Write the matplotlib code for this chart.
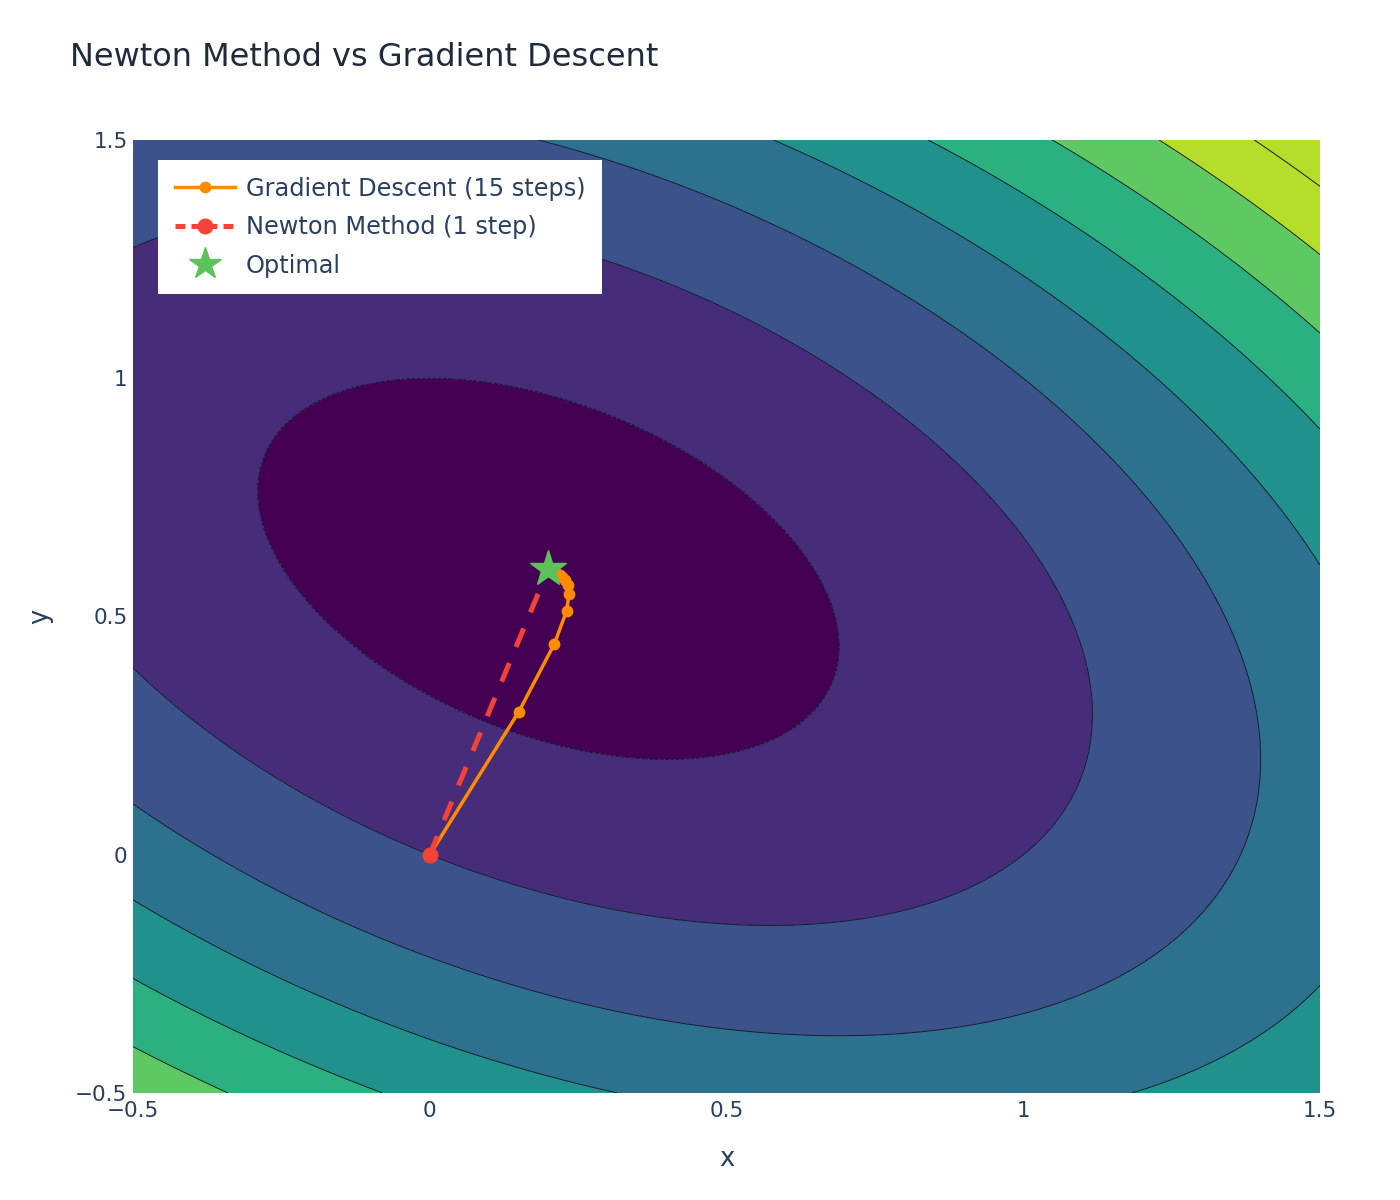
import numpy as np
import matplotlib.pyplot as plt
from matplotlib.lines import Line2D

# Quadratic objective f(x, y) = 0.5 * [x y] A [x y]^T - b . [x y]
A = [[2.0, 1.0], [1.0, 3.0]]
b = [1.0, 2.0]

# Contour levels and band colours (viridis-like, as in the picture)
levels = [-0.5, 0.0, 0.5, 1.0, 1.5, 2.0, 2.5, 3.0]
band_colors = ["#440154", "#472c7a", "#3b528b", "#2c728e", "#21918c",
               "#2bb07f", "#5ec962", "#b5de2b", "#b5de2b"]

# Gradient descent path (15 steps, start included)
gd_x = [0.0, 0.15, 0.21, 0.2306, 0.2347, 0.2322, 0.2277, 0.2230,
        0.2187, 0.2150, 0.2120, 0.2095, 0.2076, 0.2060, 0.2048, 0.2038]
gd_y = [0.0, 0.30, 0.4425, 0.5119, 0.5469, 0.5656, 0.5763, 0.5828,
        0.5871, 0.5901, 0.5923, 0.5940, 0.5953, 0.5963, 0.5970, 0.5977]

# Newton method: one step
newton_x = [0.0, 0.2]
newton_y = [0.0, 0.6]

# Optimum
opt_x = [0.2]
opt_y = [0.6]

xs = np.linspace(-0.5, 1.5, 400)
ys = np.linspace(-0.5, 1.5, 400)
X, Y = np.meshgrid(xs, ys)
Z = 0.5 * (A[0][0] * X**2 + 2 * A[0][1] * X * Y + A[1][1] * Y**2) - b[0] * X - b[1] * Y

text_color = "#2a3f5f"

fig = plt.figure(figsize=(14, 12), dpi=100)
ax = fig.add_axes([133 / 1400, 1 - 1093 / 1200, (1320 - 133) / 1400, (1093 - 140) / 1200])

fill_levels = [Z.min() - 1] + levels + [Z.max() + 1]
ax.contourf(X, Y, Z, levels=fill_levels, colors=band_colors)
ax.contour(X, Y, Z, levels=levels, colors="#1a1a2e", linewidths=0.7)

ax.plot(gd_x, gd_y, color="#ff8c00", lw=2.5, marker="o", ms=7.5,
        label="Gradient Descent (15 steps)", zorder=3)
ax.plot(newton_x, newton_y, color="#f44336", lw=3.6, ls=(0, (4, 3.5)),
        marker="o", ms=10.5, label="Newton Method (1 step)", zorder=4)
ax.plot(opt_x, opt_y, ls="none", marker="*", ms=27, color="#5cc35a",
        label="Optimal", zorder=5)

ax.set_xlim(-0.5, 1.5)
ax.set_ylim(-0.5, 1.5)
ax.set_xticks([-0.5, 0, 0.5, 1, 1.5])
ax.set_xticklabels(["\u22120.5", "0", "0.5", "1", "1.5"])
ax.set_yticks([-0.5, 0, 0.5, 1, 1.5])
ax.set_yticklabels(["\u22120.5", "0", "0.5", "1", "1.5"])
ax.tick_params(length=0, labelsize=15.5, labelcolor=text_color)
ax.tick_params(axis="x", pad=6)
ax.tick_params(axis="y", pad=4)
for s in ax.spines.values():
    s.set_visible(False)

ax.set_xlabel("x", fontsize=18.5, color=text_color, labelpad=18)
ax.set_ylabel("y", fontsize=18.5, color=text_color, labelpad=16)

fig.text(70 / 1400, 1 - 58 / 1200, "Newton Method vs Gradient Descent",
         fontsize=23, color="#1f2a3a", va="center", ha="left")

handles = [
    Line2D([], [], color="#ff8c00", lw=2.5, marker="o", ms=7.5),
    Line2D([], [], color="#f44336", lw=3.6, ls=(0, (2, 1.2)), marker="o", ms=10.5),
    Line2D([], [], ls="none", marker="*", ms=24, color="#5cc35a"),
]
labels = ["Gradient Descent (15 steps)", "Newton Method (1 step)", "Optimal"]
leg = ax.legend(handles, labels, loc="upper left", bbox_to_anchor=(0.021, 0.979),
                fontsize=17.3, frameon=True, fancybox=False, framealpha=1,
                facecolor="white", edgecolor="none", borderpad=0.7,
                handlelength=2.5, handletextpad=0.45, labelspacing=0.6,
                borderaxespad=0)
for t in leg.get_texts():
    t.set_color(text_color)

fig.savefig("out.png", dpi=100)
